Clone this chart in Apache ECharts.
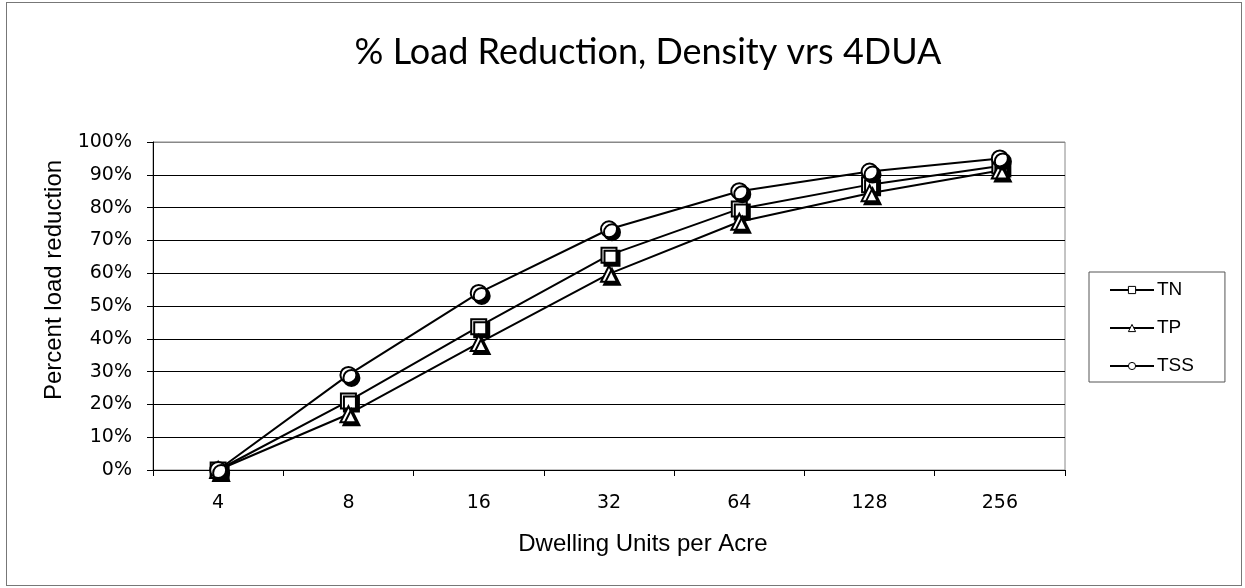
<!DOCTYPE html>
<html>
<head>
<meta charset="utf-8">
<script src="https://cdn.jsdelivr.net/npm/echarts@6/dist/echarts.min.js"></script>
<style>
html,body{margin:0;padding:0;background:#fff;}
#frame{position:absolute;left:6px;top:2px;width:1236px;height:584px;border:1px solid #777;box-sizing:border-box;}
#chart{position:absolute;left:0;top:0;width:1245px;height:588px;}
</style>
</head>
<body>
<div id="frame"></div>
<div id="chart"></div>
<script>
const categories = ['4', '8', '16', '32', '64', '128', '256'];
const tnValues  = [0, 21, 43.7, 65.5, 79.6, 87, 92.7];
const tpValues  = [0, 17, 38.7, 59.8, 75.7, 84.4, 91.3];
const tssValues = [0, 29, 54, 73.4, 85, 91, 95];
const yTicks = [0, 10, 20, 30, 40, 50, 60, 70, 80, 90, 100];

const chart = echarts.init(document.getElementById('chart'));

function makeSeries(name, data, symbol, size) {
  return {
    name: name,
    type: 'line',
    data: data,
    symbol: symbol,
    symbolSize: size,
    showAllSymbol: true,
    lineStyle: { color: '#000', width: 2 },
    itemStyle: {
      color: '#fff',
      borderColor: '#000',
      borderWidth: 2,
      shadowColor: '#000',
      shadowBlur: 0,
      shadowOffsetX: 3,
      shadowOffsetY: 3
    },
    emphasis: { disabled: true },
    animation: false
  };
}

const gridColors = yTicks.map((t, i) => i === yTicks.length - 1 ? '#888' : '#000');

chart.setOption({
  backgroundColor: 'transparent',
  animation: false,
  title: {
    text: '% Load Reduction, Density vrs 4DUA',
    left: 643,
    textAlign: 'center',
    top: 29,
    textStyle: { fontFamily: 'Lato', fontSize: 36, fontWeight: 'normal', color: '#000' }
  },
  legend: {
    orient: 'vertical',
    left: 1089,
    top: 272,
    padding: [8, 31, 6, 20],
    itemGap: 18,
    itemWidth: 44,
    itemHeight: 9,
    borderColor: '#555',
    borderWidth: 1,
    itemStyle: { shadowColor: 'transparent', shadowOffsetX: 0, shadowOffsetY: 0, borderWidth: 1 },
    lineStyle: { width: 2 },
    textStyle: { fontFamily: 'Liberation Sans', fontSize: 19, lineHeight: 20, color: '#000', padding: [0, 0, 0, -2] },
    data: ['TN', 'TP', 'TSS']
  },
  grid: {
    left: 153, right: 180, top: 142, bottom: 118,
    show: true, borderColor: '#888', borderWidth: 1, backgroundColor: 'transparent'
  },
  xAxis: {
    type: 'category',
    data: categories,
    boundaryGap: true,
    name: 'Dwelling Units per Acre',
    nameLocation: 'middle',
    nameGap: 62,
    nameTextStyle: { fontFamily: 'Liberation Sans', fontSize: 24, color: '#000', padding: [0, 0, 0, 68] },
    axisLine: { lineStyle: { color: '#000', width: 1 } },
    axisTick: { show: true, length: 6, alignWithLabel: false, lineStyle: { color: '#000' } },
    axisLabel: { fontFamily: 'DejaVu Sans', fontSize: 19, color: '#000', margin: 24 },
    splitLine: { show: false }
  },
  yAxis: {
    type: 'value',
    min: 0,
    max: 100,
    interval: 10,
    name: 'Percent load reduction',
    nameLocation: 'middle',
    nameGap: 78,
    nameRotate: 90,
    nameTextStyle: { fontFamily: 'Liberation Sans', fontSize: 24, color: '#000', padding: [0, 0, 0, 52] },
    axisLine: { show: true, lineStyle: { color: '#000', width: 1 } },
    axisTick: { show: true, length: 6, lineStyle: { color: '#000' } },
    axisLabel: { fontFamily: 'DejaVu Sans', fontSize: 19, color: '#000', margin: 21, formatter: '{value}%' },
    splitLine: { show: true, lineStyle: { color: gridColors, width: 1 } }
  },
  series: [
    makeSeries('TN', tnValues, 'rect', 15),
    makeSeries('TP', tpValues, 'triangle', 16),
    makeSeries('TSS', tssValues, 'circle', 16)
  ]
});
</script>
</body>
</html>
